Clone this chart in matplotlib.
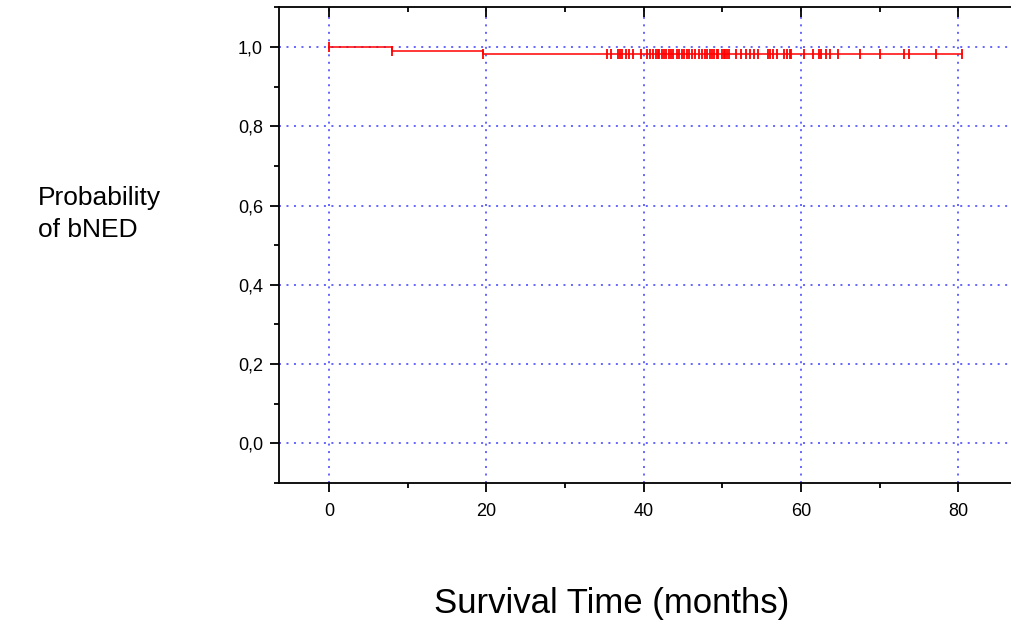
import matplotlib
matplotlib.use("Agg")
import matplotlib.pyplot as plt
from matplotlib.ticker import MultipleLocator, FuncFormatter

plt.rcParams['font.family'] = ['Liberation Sans', 'DejaVu Sans']

# Kaplan-Meier step curve (event times and survival after each event)
step_times = [0.0, 8.0, 19.6, 80.5]
step_surv = [1.0, 0.9907, 0.9823, 0.9823]

# Censoring marks (months)
censor_times = [35.3, 35.9, 36.7, 37.0, 37.2, 37.8, 38.2, 38.7, 39.7, 40.4, 40.8,
                41.2, 41.6, 41.8, 42.0, 42.3, 42.6, 42.9, 43.2, 43.5, 43.7, 44.2,
                44.5, 44.9, 45.2, 45.5, 45.8, 46.1, 46.6, 47.0, 47.4, 47.8, 48.1,
                48.4, 48.7, 49.0, 49.3, 49.5, 50.0, 50.2, 50.4, 50.6, 50.8, 51.8,
                52.4, 53.0, 53.5, 54.1, 54.6, 55.8, 56.1, 56.5, 57.0, 57.9, 58.2,
                58.6, 58.8, 60.4, 61.5, 62.3, 62.6, 63.2, 63.7, 64.7, 67.5, 70.1,
                73.1, 73.7, 77.2, 80.5]

x_ticks = [0, 20, 40, 60, 80]
y_ticks = [0.0, 0.2, 0.4, 0.6, 0.8, 1.0]

fig = plt.figure(figsize=(10.11, 6.27), dpi=100)
ax = fig.add_axes([279/1011, 1 - 483/627, (1010.5 - 279)/1011, (483 - 7.3)/627])

red = '#ff0000'
ax.step(step_times, step_surv, where='post', color=red, lw=1.1, zorder=3)

def surv_at(t):
    s = step_surv[0]
    for tt, ss in zip(step_times, step_surv):
        if t >= tt:
            s = ss
    return s

mark_t = step_times[:3] + censor_times
mark_s = [surv_at(t) for t in mark_t]
ax.plot(mark_t, mark_s, linestyle='none', marker='|', markersize=7.5, markeredgewidth=1.3,
        color=red, zorder=3)

ax.set_xlim(-6.35, 86.65)
ax.set_ylim(-0.1, 1.1)

ax.xaxis.set_major_locator(MultipleLocator(20))
ax.xaxis.set_minor_locator(MultipleLocator(10))
ax.yaxis.set_major_locator(MultipleLocator(0.2))
ax.yaxis.set_minor_locator(MultipleLocator(0.1))
ax.set_xticks(x_ticks)
ax.set_yticks(y_ticks)
ax.yaxis.set_major_formatter(FuncFormatter(lambda v, p: f"{v:.1f}".replace('.', ',')))

ax.grid(True, which='major', color='#3c3cff', linestyle=(0, (1.3, 3.6)), linewidth=1.1)
ax.set_axisbelow(True)

for s in ['left', 'bottom', 'top']:
    ax.spines[s].set_linewidth(1.3)
    ax.spines[s].set_color('black')
ax.spines['right'].set_visible(False)

ax.tick_params(axis='x', which='major', direction='out', length=6.5, width=1.3, labelsize=13, pad=8)
ax.tick_params(axis='x', which='minor', direction='out', length=3.5, width=1.3)
ax.tick_params(axis='y', which='major', direction='out', length=6.5, width=1.3, labelsize=13, pad=5)
ax.tick_params(axis='y', which='minor', direction='out', length=3.5, width=1.3)
ax.tick_params(top=True, right=True, which='both')
# mirrored ticks point inward
for t in ax.xaxis.get_major_ticks():
    t.tick2line.set_marker(3)
    t.tick2line.set_markersize(7)
for t in ax.xaxis.get_minor_ticks():
    t.tick2line.set_marker(3)
    t.tick2line.set_markersize(3.5)
for t in ax.yaxis.get_major_ticks():
    t.tick2line.set_marker(1)
    t.tick2line.set_markersize(6)
for t in ax.yaxis.get_minor_ticks():
    t.tick2line.set_marker(1)
    t.tick2line.set_markersize(3)

fig.text(38/1011, 1 - 214/627, "Probability\nof bNED", ha='left', va='center',
         fontsize=19, linespacing=1.4)
fig.text(612/1011, 1 - 604/627, "Survival Time (months)", ha='center', va='center',
         fontsize=25)

fig.savefig("out.png", dpi=100)
